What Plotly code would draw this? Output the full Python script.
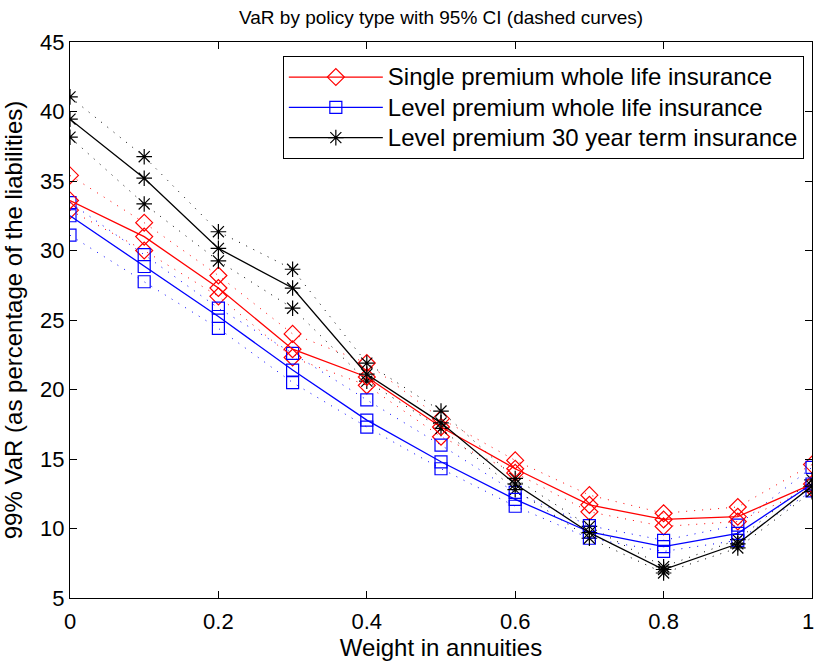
import plotly.graph_objects as go

x = [0, 0.1, 0.2, 0.3, 0.4, 0.5, 0.6, 0.7, 0.8, 0.9, 1.0]

single_mean = [33.6, 31.0, 27.3, 22.9, 20.9, 17.3, 14.3, 11.7, 10.65, 10.85, 13.2]
single_upper = [35.4, 32.0, 28.2, 24.0, 21.9, 17.9, 14.9, 12.4, 11.1, 11.55, 14.6]
single_lower = [32.9, 30.0, 26.7, 22.3, 20.3, 16.6, 14.0, 11.2, 10.15, 10.5, 12.9]

level_mean = [32.5, 28.85, 25.25, 21.4, 17.8, 14.8, 12.1, 9.75, 8.7, 9.65, 13.2]
level_upper = [33.45, 29.7, 25.85, 22.6, 19.25, 16.0, 12.6, 10.2, 9.15, 10.25, 14.4]
level_lower = [31.1, 27.75, 24.4, 20.5, 17.3, 14.3, 11.6, 9.3, 8.35, 9.15, 12.7]

term_mean = [39.45, 35.2, 30.15, 27.3, 21.1, 17.6, 13.2, 9.7, 7.05, 8.9, 13.05]
term_upper = [41.05, 36.75, 31.35, 28.65, 21.9, 18.45, 13.6, 10.15, 7.25, 9.2, 13.5]
term_lower = [38.15, 33.35, 29.25, 25.85, 20.6, 17.2, 12.8, 9.3, 6.8, 8.6, 12.65]

x_tickvals = [0, 0.2, 0.4, 0.6, 0.8, 1]
x_ticktext = ["0", "0.2", "0.4", "0.6", "0.8", "1"]
y_tickvals = [5, 10, 15, 20, 25, 30, 35, 40, 45]

names = ["Single premium whole life insurance",
         "Level premium whole life insurance",
         "Level premium 30 year term insurance"]
colors = ["#ff0000", "#0000ff", "#000000"]
symbols = ["diamond-open", "square-open", "asterisk-open"]
sizes = [13, 12, 13]

series = [
    (single_mean, single_upper, single_lower),
    (level_mean, level_upper, level_lower),
    (term_mean, term_upper, term_lower),
]

fig = go.Figure()
for i, (m, u, l) in enumerate(series):
    for ci in (u, l):
        fig.add_trace(go.Scatter(
            x=x, y=ci, mode="lines+markers", showlegend=False,
            line=dict(color=colors[i], width=1, dash="1px,7px"),
            marker=dict(symbol=symbols[i], size=sizes[i],
                        line=dict(color=colors[i], width=1.2), color=colors[i]),
        ))
for i, (m, u, l) in enumerate(series):
    fig.add_trace(go.Scatter(
        x=x, y=m, mode="lines+markers",
        name='<span style="font-size:24px">' + names[i] + "</span>",
        line=dict(color=colors[i], width=1.3),
        marker=dict(symbol=symbols[i], size=sizes[i],
                    line=dict(color=colors[i], width=1.2), color=colors[i]),
    ))

font = "Liberation Sans, Arial, Helvetica, sans-serif"
axis_common = dict(
    showline=True, linecolor="black", linewidth=1, mirror="ticks",
    ticks="inside", ticklen=7, tickwidth=1, tickcolor="black",
    showgrid=False, zeroline=False, automargin=False,
    tickfont=dict(size=22, color="black", family=font),
)

# last x tick label drawn as right-aligned text so it stays inside the page
x_ticktext_axis = x_ticktext[:-1] + [""]

fig.update_layout(
    width=816, height=662,
    margin=dict(l=70, r=4, t=42, b=64),
    paper_bgcolor="white", plot_bgcolor="white",
    font=dict(family=font, color="black"),
    title=dict(text="VaR by policy type with 95% CI (dashed curves)",
               x=0.5405, xanchor="center", y=1 - 17 / 662, yanchor="middle",
               yref="container", font=dict(size=19, color="black")),
    xaxis=dict(range=[0, 1], tickvals=x_tickvals, ticktext=x_ticktext_axis,
               ticklabelstandoff=4,
               title=dict(text="Weight in annuities", font=dict(size=24), standoff=3),
               **axis_common),
    yaxis=dict(range=[5, 45], tickvals=y_tickvals,
               title=dict(text="99% VaR (as percentage of the liabilities)",
                          font=dict(size=24), standoff=12),
               **axis_common),
    legend=dict(x=0.989, y=0.975, xanchor="right", yanchor="top",
                bgcolor="white", bordercolor="black", borderwidth=1,
                font=dict(size=21, color="black"), itemwidth=94,
                tracegroupgap=0),
)

fig.add_annotation(
    x=x_tickvals[-1], xref="x", y=0, yref="paper",
    text=x_ticktext[-1], showarrow=False,
    xanchor="right", xshift=4, yanchor="middle", yshift=-23,
    font=dict(size=22, color="black", family=font),
)

fig.write_html("out.html")
